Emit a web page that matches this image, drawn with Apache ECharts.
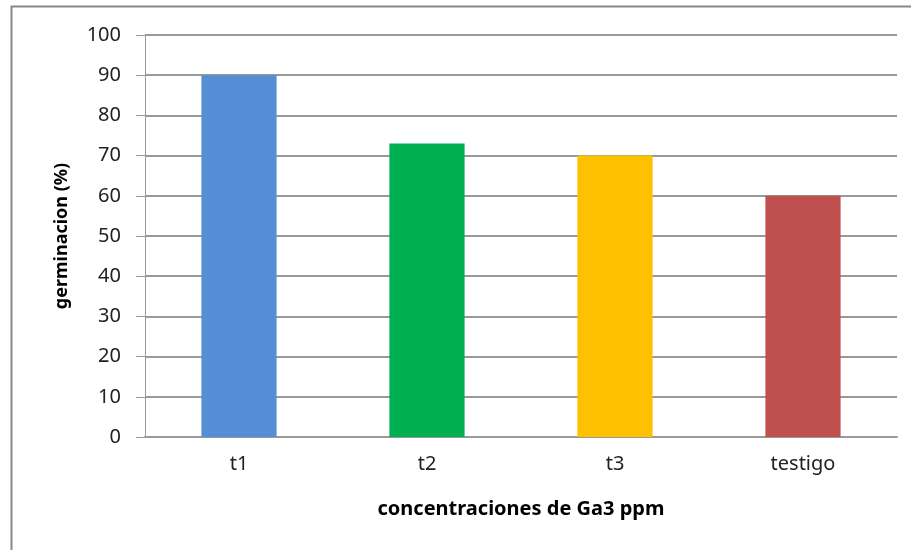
<!DOCTYPE html>
<html>
<head>
<meta charset="utf-8">
<script src="https://cdn.jsdelivr.net/npm/echarts@6/dist/echarts.min.js"></script>
<style>
  html, body { margin: 0; padding: 0; background: #fff; }
  #chart { width: 911px; height: 550px; }
</style>
</head>
<body>
<div id="chart"></div>
<script>
const categories = ['t1', 't2', 't3', 'testigo']
const germinacion = [90, 73, 70, 60]
const barColors = ['#558ED5', '#00B050', '#FFC000', '#C0504D']

const chart = echarts.init(document.getElementById('chart'))

const option = {
  animation: false,
  textStyle: { fontFamily: 'Noto Sans' },
  graphic: [
    {
      type: 'rect',
      shape: { x: 11.5, y: 6.5, width: 920, height: 560 },
      style: { fill: 'none', stroke: '#888', lineWidth: 2 }
    }
  ],
  grid: {
    left: 145,
    right: 14,
    top: 35,
    bottom: 113
  },
  xAxis: {
    type: 'category',
    data: categories,
    name: 'concentraciones de Ga3 ppm',
    nameLocation: 'middle',
    nameGap: 62,
    nameTextStyle: { fontSize: 20, fontWeight: 'bold', color: '#000' },
    axisLine: { lineStyle: { color: '#999', width: 2 } },
    axisTick: { show: false },
    axisLabel: { fontSize: 20, color: '#222', margin: 17 }
  },
  yAxis: {
    type: 'value',
    min: 0,
    max: 100,
    interval: 10,
    name: 'germinacion (%)',
    nameLocation: 'middle',
    nameGap: 74,
    nameTextStyle: { fontSize: 18, fontWeight: 'bold', color: '#000' },
    axisLine: { show: true, lineStyle: { color: '#999' } },
    axisTick: { show: true, inside: false, length: 9, lineStyle: { color: '#999' } },
    axisLabel: { fontSize: 20, color: '#222', margin: 24 },
    splitLine: { lineStyle: { color: '#999', width: 2 } }
  },
  series: [
    {
      type: 'bar',
      barWidth: '40%',
      data: germinacion.map((v, i) => ({ value: v, itemStyle: { color: barColors[i] } }))
    }
  ]
}

chart.setOption(option)
</script>
</body>
</html>
